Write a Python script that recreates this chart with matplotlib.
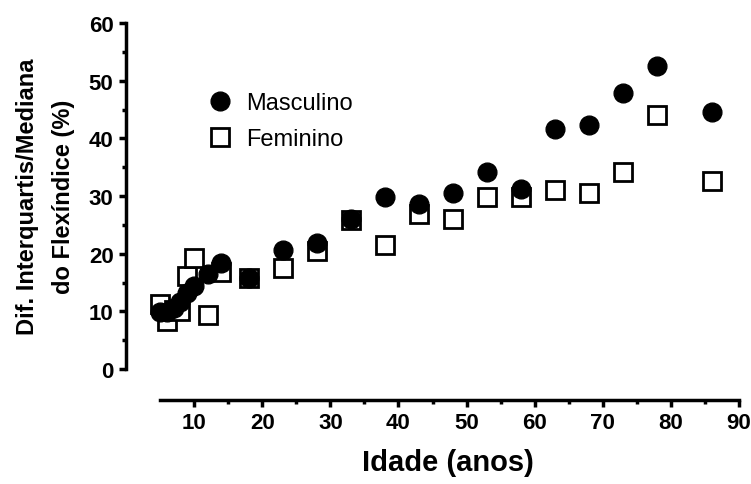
import matplotlib
matplotlib.use('Agg')
import matplotlib.pyplot as plt
from matplotlib.ticker import MultipleLocator, FixedLocator

plt.rcParams['font.family'] = ['Liberation Sans', 'DejaVu Sans']

idade = [5, 6, 7, 8, 9, 10, 12, 14, 18, 23, 28, 33, 38, 43, 48, 53, 58, 63, 68, 73, 78, 86]
masculino = [9.9, 9.8, 10.6, 11.7, 13.2, 14.4, 16.4, 18.4, 15.8, 20.6, 21.8, 26.0,
             29.8, 28.6, 30.5, 34.2, 31.2, 41.6, 42.3, 47.9, 52.5, 44.5]
feminino = [11.3, 8.4, 10.2, 10.0, 16.2, 19.2, 9.4, 16.8, 15.8, 17.5, 20.5, 25.8,
            21.5, 26.9, 26.0, 29.8, 29.8, 31.1, 30.5, 34.1, 44.0, 32.6]
xticks = [10, 20, 30, 40, 50, 60, 70, 80, 90]
xminor = [15, 25, 35, 45, 55, 65, 75, 85]

fig = plt.figure(figsize=(7.51, 4.85), dpi=100)
ax = fig.add_axes([126/751, 1-370/485, 613/751, 346/485])

ax.plot(idade, feminino, 's', ms=12.5, mfc='white', mec='black', mew=2.0,
        label='Feminino', zorder=3)
ax.plot(idade, masculino, 'o', ms=13.5, color='black', label='Masculino', zorder=4)

ax.set_xlim(0, 90)
ax.set_ylim(0, 60)
ax.spines['top'].set_visible(False)
ax.spines['right'].set_visible(False)
ax.spines['bottom'].set_position(('outward', 22))
ax.spines['bottom'].set_bounds(5, 90)
ax.spines['left'].set_linewidth(2.5)
ax.spines['bottom'].set_linewidth(2.5)

ax.xaxis.set_major_locator(FixedLocator(xticks))
ax.xaxis.set_minor_locator(FixedLocator(xminor))
ax.yaxis.set_major_locator(MultipleLocator(10))
ax.yaxis.set_minor_locator(MultipleLocator(5))
ax.tick_params(which='major', length=5, width=2.5, labelsize=16, pad=4)
ax.tick_params(which='minor', length=3, width=2.5)
for lab in ax.get_xticklabels() + ax.get_yticklabels():
    lab.set_fontweight('bold')

ax.set_xlabel('Idade (anos)', fontsize=21, fontweight='bold')
ax.xaxis.set_label_coords(0.525, -0.228)
ax.set_ylabel('Dif. Interquartis/Mediana\ndo Flexíndice (%)', fontsize=17,
              fontweight='bold', linespacing=1.75)
ax.yaxis.set_label_coords(-0.083, 0.5)

h, l = ax.get_legend_handles_labels()
ax.legend(h[::-1], l[::-1], loc='upper left', bbox_to_anchor=(0.134, 0.80),
          frameon=False, fontsize=17, handlelength=1.0, handletextpad=0.6,
          borderpad=0, borderaxespad=0, labelspacing=0.6)

fig.savefig('out.png', dpi=100)
